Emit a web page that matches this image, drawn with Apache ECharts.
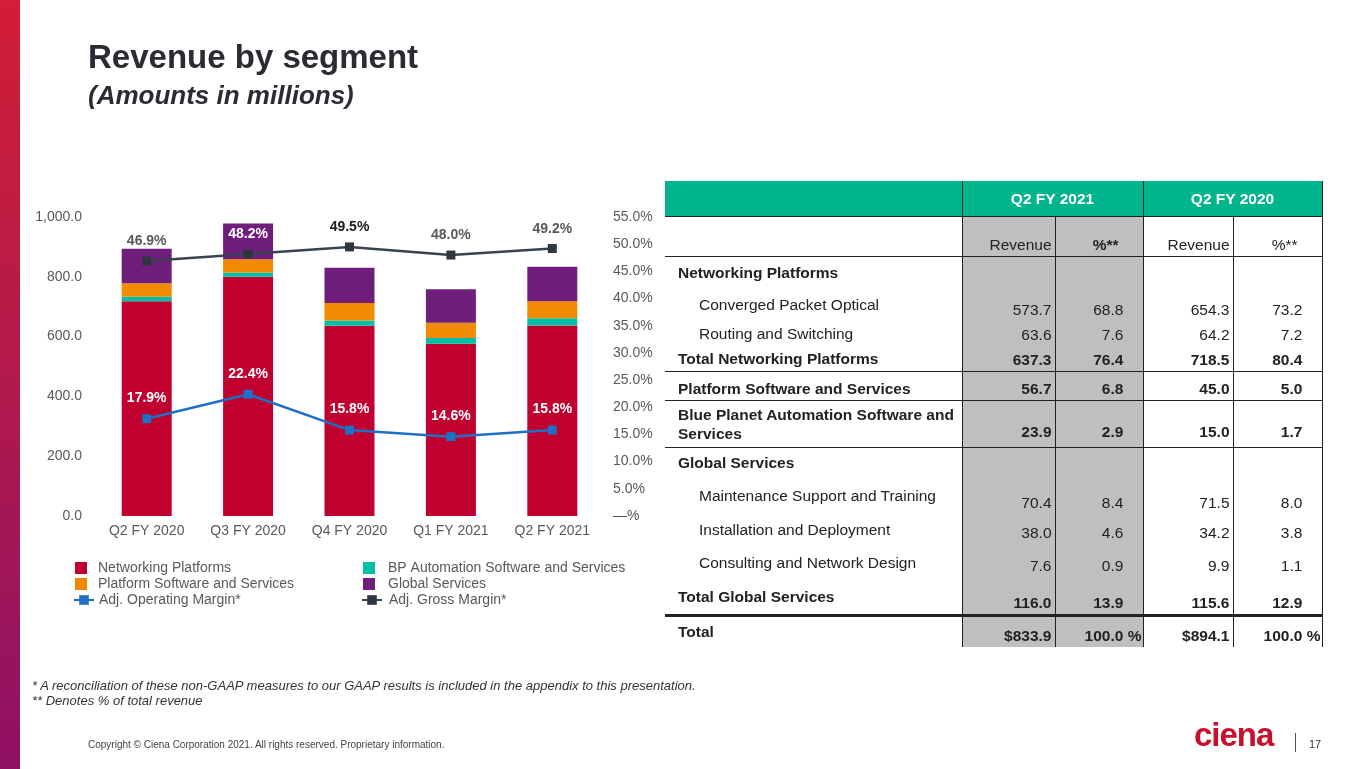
<!DOCTYPE html>
<html>
<head>
<meta charset="utf-8">
<script src="https://cdn.jsdelivr.net/npm/echarts@6.0.0/dist/echarts.min.js"></script>
<style>
  html, body { margin: 0; padding: 0; background: #fff; }
  body { width: 1365px; height: 769px; position: relative; overflow: hidden; font-family: 'Liberation Sans', Arial, sans-serif; }
  #band { position: absolute; left: 0; top: 0; width: 20px; height: 769px; background: linear-gradient(#d21e36, #b01a4c 50%, #8e1164); }
  #main { position: absolute; left: 0; top: 0; width: 1365px; height: 769px; }
  .title { position: absolute; left: 88px; top: 40px; font-size: 33px; font-weight: bold; color: #2b2b33; line-height: 1; }
  .subtitle { position: absolute; left: 88px; top: 82px; font-size: 26px; font-weight: bold; font-style: italic; color: #2b2b33; line-height: 1; }
  #tbl { position: absolute; left: 665px; top: 181px; border-collapse: collapse; table-layout: fixed; width: 657px; font-size: 15.5px; color: #222; line-height: 19px; font-family: 'Liberation Sans', Arial, sans-serif; }
  #tbl td { padding: 0; }
  #tbl .hd td { background: #00b48c; color: #fff; font-weight: bold; text-align: center; height: 35px; border-bottom: 1.5px solid #222; }
  #tbl .sub td { height: 36px; vertical-align: bottom; padding-bottom: 3px; border-bottom: 1.5px solid #222; }
  #tbl td.lab { padding-left: 13px; vertical-align: middle; }
  #tbl td.ind { padding-left: 34px; }
  #tbl td.v { text-align: right; vertical-align: bottom; padding-right: 3px; padding-bottom: 2px; }
  #tbl td.g { background: #bfbfbf; }
  #tbl td.bl { border-left: 1.5px solid #222; }
  #tbl td.br { border-right: 1.5px solid #222; }
  #tbl tr.b td { font-weight: bold; }
  #tbl tr.rule td { border-bottom: 1.5px solid #222; }
  #tbl tr.thick td { border-bottom: 3px solid #222; }
  #tbl tr.lb td.lab { vertical-align: bottom; padding-bottom: 2px; }
  #tbl tr.vp td.v { padding-bottom: 6px; }
  #tbl tr.up td.v { padding-bottom: 4px; }
  .hid { visibility: hidden; }
  .note { position: absolute; left: 32px; font-size: 13px; font-style: italic; color: #333; line-height: 1; }
  .copy { position: absolute; left: 88px; top: 740px; font-size: 10px; color: #444; line-height: 1; }
  .logo { position: absolute; left: 1194px; top: 718px; font-size: 33px; font-weight: bold; color: #c8102e; letter-spacing: -1px; line-height: 1; }
  .sep { position: absolute; left: 1295px; top: 733px; width: 1px; height: 19px; background: #555; }
  .page { position: absolute; left: 1309px; top: 739px; font-size: 11px; color: #333; line-height: 1; }
</style>
</head>
<body>
<div id="band"></div>
<div id="main"></div>
<div class="title">Revenue by segment</div>
<div class="subtitle">(Amounts in millions)</div>
<table id="tbl"></table>
<div class="note" style="top:679px">* A reconciliation of these non-GAAP measures to our GAAP results is included in the appendix to this presentation.</div>
<div class="note" style="top:694px">** Denotes % of total revenue</div>
<div class="copy">Copyright © Ciena Corporation 2021. All rights reserved. Proprietary information.</div>
<div class="logo">ciena</div>
<div class="sep"></div>
<div class="page">17</div>
<script>
// chart data
var categories = ['Q2 FY 2020', 'Q3 FY 2020', 'Q4 FY 2020', 'Q1 FY 2021', 'Q2 FY 2021'];
var networking = [718.5, 800.0, 636.0, 576.0, 637.3];
var bpAutomation = [15.0, 14.0, 18.0, 19.0, 23.9];
var platformSw = [45.0, 45.0, 58.0, 51.0, 56.7];
var globalSvc = [115.6, 119.0, 118.0, 112.0, 116.0];
var operatingMargin = [17.9, 22.4, 15.8, 14.6, 15.8];
var grossMargin = [46.9, 48.2, 49.5, 48.0, 49.2];

// table data
var tableLabels = ['Networking Platforms', 'Converged Packet Optical', 'Routing and Switching', 'Total Networking Platforms',
  'Platform Software and Services', 'Blue Planet Automation Software and Services', 'Global Services',
  'Maintenance Support and Training', 'Installation and Deployment', 'Consulting and Network Design',
  'Total Global Services', 'Total'];
var rev2021 = ['', '573.7', '63.6', '637.3', '56.7', '23.9', '', '70.4', '38.0', '7.6', '116.0', '$833.9'];
var pct2021 = ['', '68.8', '7.6', '76.4', '6.8', '2.9', '', '8.4', '4.6', '0.9', '13.9', '100.0'];
var rev2020 = ['', '654.3', '64.2', '718.5', '45.0', '15.0', '', '71.5', '34.2', '9.9', '115.6', '$894.1'];
var pct2020 = ['', '73.2', '7.2', '80.4', '5.0', '1.7', '', '8.0', '3.8', '1.1', '12.9', '100.0'];

// row layout
var rowHeights = [32, 32, 25, 26, 29, 47, 29, 37, 32, 33, 37, 31];
var rowClass = ['b', '', '', 'b rule', 'b rule lb', 'b rule vp', 'b', '', 'up', 'up', 'b thick', 'b'];
var indented = [false, true, true, false, false, false, false, true, true, true, false, false];

var html = '<colgroup><col style="width:297px"><col style="width:93px"><col style="width:88px"><col style="width:90px"><col style="width:89px"></colgroup>';
html += '<tr class="hd"><td></td><td colspan="2" class="bl br">Q2 FY 2021</td><td colspan="2" class="br">Q2 FY 2020</td></tr>';
html += '<tr class="sub"><td></td><td class="v g bl br">Revenue</td><td class="v g br" style="font-weight:bold;padding-right:24px">%**</td>' +
  '<td class="v br">Revenue</td><td class="v br" style="padding-right:24px">%**</td></tr>';
function pctCell(v, i) {
  if (v === '') return '';
  return v + (i === tableLabels.length - 1 ? ' %' : '<span class="hid"> %</span>');
}
for (var i = 0; i < tableLabels.length; i++) {
  html += '<tr class="' + rowClass[i] + '" style="height:' + rowHeights[i] + 'px">' +
    '<td class="lab' + (indented[i] ? ' ind' : '') + '">' + tableLabels[i] + '</td>' +
    '<td class="v g bl br">' + rev2021[i] + '</td>' +
    '<td class="v g br" style="padding-right:1px">' + pctCell(pct2021[i], i) + '</td>' +
    '<td class="v br">' + rev2020[i] + '</td>' +
    '<td class="v br" style="padding-right:1px">' + pctCell(pct2020[i], i) + '</td></tr>';
}
document.getElementById('tbl').innerHTML = html;

var grossLabelColors = ['#595959', '#ffffff', '#1a1a1a', '#595959', '#595959'];
var grossData = grossMargin.map(function (v, i) {
  return { value: v, label: { color: grossLabelColors[i] } };
});

var chart = echarts.init(document.getElementById('main'));
var font = 'Liberation Sans';
var barStyle = function (name, data, color) {
  return { name: name, type: 'bar', stack: 'rev', data: data, barWidth: 50, itemStyle: { color: color }, z: 2 };
};
var legendText = { fontSize: 14, color: '#595959', fontFamily: font };
var option = {
  animation: false,
  textStyle: { fontFamily: font },
  grid: { left: 96, right: 762, top: 217, bottom: 253 },
  legend: [
    { data: ['Networking Platforms', 'Platform Software and Services'], left: 75, top: 561, orient: 'vertical', padding: 0,
      itemWidth: 12, itemHeight: 12, itemGap: 2, icon: 'rect',
      textStyle: Object.assign({ padding: [0, 0, 0, 6] }, legendText) },
    { data: ['Adj. Operating Margin*'], left: 73, top: 593, padding: 0, itemWidth: 20, itemHeight: 12,
      textStyle: legendText },
    { data: ['BP Automation Software and Services', 'Global Services'], left: 363, top: 561, orient: 'vertical', padding: 0,
      itemWidth: 12, itemHeight: 12, itemGap: 2, icon: 'rect',
      textStyle: Object.assign({ padding: [0, 0, 0, 8] }, legendText) },
    { data: ['Adj. Gross Margin*'], left: 361, top: 593, padding: 0, itemWidth: 20, itemHeight: 12,
      textStyle: Object.assign({ padding: [0, 0, 0, 2] }, legendText) }
  ],
  xAxis: {
    type: 'category', data: categories,
    axisLine: { show: false }, axisTick: { show: false },
    axisLabel: { color: '#595959', fontSize: 14, margin: 8 }
  },
  yAxis: [
    { type: 'value', min: 0, max: 1000, interval: 200, splitLine: { show: false },
      axisLabel: { color: '#595959', fontSize: 14, margin: 14,
        formatter: function (v) { return v.toLocaleString('en-US', { minimumFractionDigits: 1, maximumFractionDigits: 1 }); } } },
    { type: 'value', min: 0, max: 55, interval: 5, splitLine: { show: false },
      axisLabel: { color: '#595959', fontSize: 14, margin: 10,
        formatter: function (v) { return v === 0 ? '—%' : v.toFixed(1) + '%'; } } }
  ],
  series: [
    barStyle('Networking Platforms', networking, '#c0002e'),
    barStyle('BP Automation Software and Services', bpAutomation, '#00bfa5'),
    barStyle('Platform Software and Services', platformSw, '#f08a00'),
    barStyle('Global Services', globalSvc, '#6f1e7c'),
    { name: 'Adj. Operating Margin*', type: 'line', yAxisIndex: 1, data: operatingMargin,
      symbol: 'rect', symbolSize: 9, z: 5,
      lineStyle: { color: '#1f6fc5', width: 2.5 }, itemStyle: { color: '#1f6fc5' },
      label: { show: true, position: 'top', distance: 9, color: '#fff', fontWeight: 'bold', fontSize: 14,
        formatter: function (p) { return p.value.toFixed(1) + '%'; } } },
    { name: 'Adj. Gross Margin*', type: 'line', yAxisIndex: 1, data: grossData,
      symbol: 'rect', symbolSize: 9, z: 5,
      lineStyle: { color: '#3a434f', width: 2.5 }, itemStyle: { color: '#2e3640' },
      label: { show: true, position: 'top', distance: 8, fontWeight: 'bold', fontSize: 14,
        formatter: function (p) { return p.value.toFixed(1) + '%'; } } }
  ]
};
chart.setOption(option);
</script>
</body>
</html>
